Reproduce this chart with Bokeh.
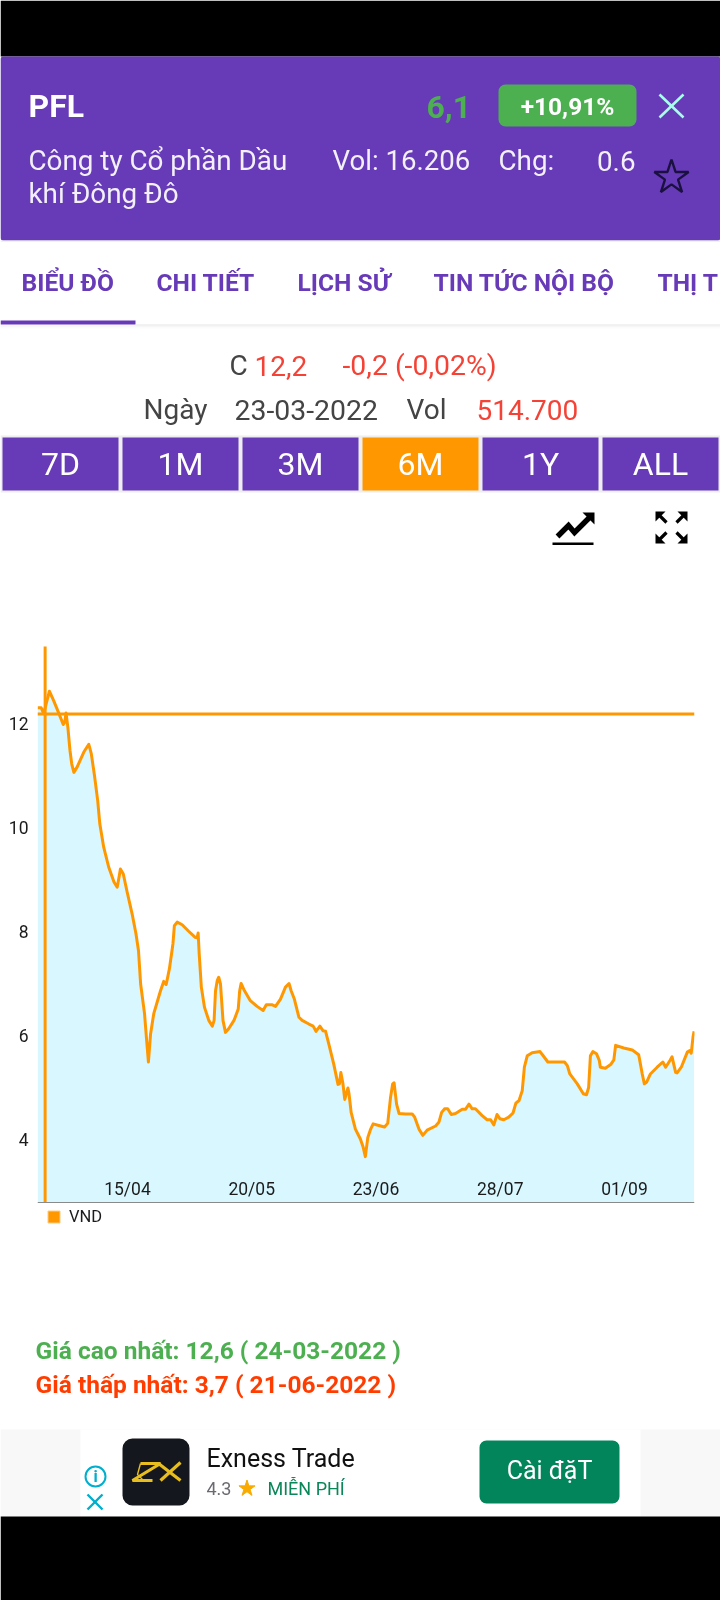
from bokeh.plotting import figure
from bokeh.layouts import column
from bokeh.models import Range1d, FixedTicker, Legend, LegendItem, Span
from bokeh.core.properties import value
from bokeh.embed import file_html
from bokeh.resources import INLINE

# ---- data ----
symbol = "PFL"
days = [-25.3,-24.3,-23.6,-22.0,-20.8,-19.3,-18.1,-17.7,-17.3,-16.8,-16.2,-15.7,-15.1,-14.2,-12.3,-10.9,-10.2,-9.3,-8.4,-7.8,-6.7,-5.3,-3.8,-2.9,-2.4,-2.0,-1.2,-0.1,1.3,
 2.4,3.1,3.7,4.8,5.4,5.9,6.5,7.4,9.3,10.2,10.9,11.8,12.8,13.2,14.0,15.4,17.3,19.0,19.6,19.9,20.2,20.8,21.7,22.9,23.9,24.4,24.8,25.3,25.7,26.2,26.9,27.6,28.5,30.0,31.2,31.6,32.0,32.8,34.6,36.5,38.2,39.1,40.8,41.7,43.1,44.5,45.5,46.1,47.0,48.3,49.2,51.1,52.3,53.1,54.2,55.1,55.8,56.7,58.1,59.3,59.7,60.1,60.7,61.2,62.1,62.4,63.0,64.2,
 65.6,66.4,67.0,67.7,68.5,69.2,70.8,72.4,73.3,74.1,74.7,75.1,75.8,76.5,78.3,80.2,80.9,82.1,83.2,84.4,86.8,87.7,88.5,89.3,90.2,91.2,92.4,94.3,95.2,96.2,97.1,98.0,99.9,101.3,102.3,103.2,104.1,104.9,106.0,107.4,108.6,109.4,110.3,111.2,111.8,112.6,114.0,116.2,117.1,118.4,120.6,123.1,123.9,124.6,126.7,128.4,129.3,129.9,130.4,131.1,132.1,132.9,133.2,134.6,136.1,137.0,137.5,139.8,142.2,144.0,145.0,145.6,146.2,147.3,149.2,150.8,151.6,152.8,153.4,154.4,154.8,156.0,157.7,158.4,158.8,159.3,159.6]
prices = [12.30,12.30,12.19,12.62,12.44,12.19,11.98,12.02,12.20,11.93,11.48,11.22,11.06,11.16,11.45,11.60,11.42,11.00,10.52,10.07,9.62,9.24,8.95,8.85,9.04,9.20,9.11,8.76,8.34,
 7.95,7.63,6.99,6.42,5.90,5.49,6.03,6.42,6.86,7.04,6.98,7.28,7.76,8.11,8.18,8.13,8.00,7.89,7.88,7.97,7.57,6.93,6.54,6.29,6.18,6.29,6.86,7.06,7.12,6.99,6.29,6.06,6.13,6.29,6.51,6.86,7.00,6.88,6.67,6.56,6.48,6.59,6.59,6.56,6.70,6.93,7.00,6.86,6.70,6.35,6.29,6.22,6.18,6.08,6.18,6.09,6.08,5.84,5.45,5.06,5.07,5.29,5.07,4.77,4.99,4.88,4.52,4.20,
 4.01,3.85,3.67,4.04,4.20,4.30,4.27,4.24,4.31,4.81,5.07,5.09,4.68,4.50,4.49,4.49,4.43,4.20,4.08,4.18,4.26,4.33,4.52,4.59,4.59,4.48,4.50,4.58,4.58,4.68,4.59,4.59,4.46,4.38,4.38,4.28,4.48,4.40,4.38,4.43,4.51,4.70,4.75,4.94,5.39,5.61,5.67,5.69,5.61,5.49,5.49,5.49,5.42,5.26,5.07,4.88,4.86,5.00,5.61,5.69,5.65,5.52,5.39,5.37,5.44,5.53,5.81,5.76,5.72,5.63,5.26,5.07,5.10,5.26,5.39,5.49,5.39,5.52,5.59,5.29,5.28,5.39,5.68,5.71,5.66,5.97,6.08]
x_ticks = [0, 35, 70, 105, 140]
x_tick_labels = ["15/04", "20/05", "23/06", "28/07", "01/09"]
y_ticks = [4, 6, 8, 10, 12]
cross_day = -23.2
cross_price = 12.18
axis_floor = 2.788
range_labels = ["7D", "1M", "3M", "6M", "1Y", "ALL"]
tabs = ["BIỂU ĐỒ", "CHI TIẾT", "LỊCH SỬ", "TIN TỨC NỘI BỘ", "THỊ T"]

PURPLE = "#673AB7"; ORANGE = "#FF9800"; GREEN = "#4CAF50"; RED = "#F44336"; DARK = "#444444"
W = 720

def panel(y0, y1):
    f = figure(width=W, height=y1 - y0, x_range=Range1d(0, W), y_range=Range1d(y1, y0),
               output_backend="svg", toolbar_location=None, min_border=0, frame_align=False,
               outline_line_color=None, border_fill_color="white", background_fill_color="white")
    f.axis.visible = False
    f.grid.visible = False
    return f

def txt(f, x, y, s, size, color, align="left", bold=False, font="Roboto"):
    f.text(x=[x], y=[y], text=[s], text_font=value(font), text_font_size=f"{size}px",
           text_color=color, text_align=align, text_baseline="middle",
           text_font_style="bold" if bold else "normal")

def box(f, x0, x1, y0, y1, color, radius=0):
    f.quad(left=[x0], right=[x1], top=[y0], bottom=[y1], fill_color=color, line_color=None,
           border_radius=radius)

# ---- header ----
h = panel(0, 600)
box(h, 0, W, 0, 56, "black")
box(h, 0, W, 56, 240, PURPLE, 3)
box(h, 0, W, 240, 241, "#E4E4E4")
txt(h, 28, 105, symbol, 32, "white", bold=True)
txt(h, 426, 106, "6,1", 32, GREEN, bold=True)
box(h, 498, 636, 84, 126, GREEN, 7)
txt(h, 567, 106, "+10,91%", 24.5, "white", "center", True)
h.segment(x0=[659, 659], y0=[94, 117], x1=[683, 683], y1=[117, 94], line_color="#A7FFEB", line_width=2.6)
txt(h, 28, 160, "Công ty Cổ phần Dầu", 27.8, "#F3F0FA")
txt(h, 28, 193, "khí Đông Đô", 27.8, "#F3F0FA")
txt(h, 332, 160, "Vol: 16.206", 27.6, "#F3F0FA")
txt(h, 498, 160, "Chg:", 27.8, "#F3F0FA")
txt(h, 635, 160, "0.6", 27.8, "#F3F0FA", "right")
h.scatter(x=[671], y=[177], marker="star", size=36, fill_color=None, line_color="#1B1140", line_width=2.4)

tab_x = [21, 156, 297, 433, 657]
for x, s in zip(tab_x, tabs):
    txt(h, x, 282, s, 24.6, PURPLE, bold=True)
box(h, 0, 135, 320, 324, PURPLE)
for i, c in enumerate(["#E6E6E6", "#EFEFEF", "#F6F6F6", "#FBFBFB"]):
    box(h, 0 if i else 135, W, 324 + i, 325 + i, c)

txt(h, 229, 365, "C", 28, DARK)
txt(h, 254, 365, "12,2", 28, RED)
txt(h, 342, 365, "-0,2 (-0,02%)", 28.4, RED)
txt(h, 143, 409, "Ngày", 28, DARK)
txt(h, 234, 409, "23-03-2022", 28.4, DARK)
txt(h, 406, 409, "Vol", 28, DARK)
txt(h, 476, 409, "514.700", 28, RED)

box(h, 0, W, 435, 492, "#EEEEEE")
btn_x = [(2, 118), (122, 238), (242, 358), (362, 478), (482, 598), (602, 718)]
for (a, b), s in zip(btn_x, range_labels):
    box(h, a, b, 437, 490, ORANGE if s == "6M" else PURPLE)
    txt(h, (a + b) / 2, 463, s, 32, "white", "center")

# trend icon
box(h, 552, 593, 542, 544.6, "black")
h.line(x=[557, 568, 574, 589], y=[536, 525, 532, 517], line_color="black", line_width=5.4, line_join="miter")
h.patch(x=[582, 594, 594], y=[512, 512, 524], fill_color="black", line_color=None)
# expand icon
for cx, cy, sx, sy in [(655, 511, 1, 1), (687, 511, -1, 1), (655, 543, 1, -1), (687, 543, -1, -1)]:
    h.patch(x=[cx, cx + sx * 10, cx], y=[cy, cy, cy + sy * 10], fill_color="black", line_color=None)
    h.line(x=[cx + sx * 4, cx + sx * 11], y=[cy + sy * 4, cy + sy * 11], line_color="black", line_width=3.2)

# ---- chart ----
p = figure(width=W, height=700, x_range=Range1d(-25.35, 159.72), y_range=Range1d(2.25, 13.98),
           output_backend="svg", toolbar_location=None, outline_line_color=None, frame_align=False,
           min_border_left=37, min_border_right=26, min_border_top=20, min_border_bottom=70,
           border_fill_color="white", background_fill_color="white")
p.grid.visible = False
base = [axis_floor] * len(days)
p.varea(x=days, y1=base, y2=prices, fill_color="#D8F7FF")
p.line(x=days, y=prices, line_color=ORANGE, line_width=3, line_join="round")
p.add_layout(Span(location=cross_price, dimension="width", line_color=ORANGE, line_width=3))
p.segment(x0=[cross_day], x1=[cross_day], y0=[axis_floor], y1=[13.48], line_color=ORANGE, line_width=3)

xa = p.xaxis[0]
xa.fixed_location = axis_floor
xa.ticker = FixedTicker(ticks=x_ticks)
xa.major_label_overrides = dict(zip(x_ticks, x_tick_labels))
xa.major_tick_line_color = None
xa.minor_tick_line_color = None
xa.axis_line_color = "#8A8A8A"
xa.axis_line_width = 1.2
xa.major_label_text_font = "Roboto"
xa.major_label_text_font_size = "17.5px"
xa.major_label_text_color = "#1C1C1C"
xa.major_label_standoff = -30

ya = p.yaxis[0]
ya.ticker = FixedTicker(ticks=y_ticks)
ya.axis_line_color = None
ya.major_tick_line_color = None
ya.minor_tick_line_color = None
ya.major_label_text_font = "Roboto"
ya.major_label_text_font_size = "17.5px"
ya.major_label_text_color = "#1C1C1C"
ya.major_label_standoff = 3

# the legend swatch needs one row of data: it lies below the visible range
swatch = p.quad(left=[0], right=[1], top=[-5], bottom=[-6], fill_color=ORANGE, line_color="#FFCC80")
legend = Legend(items=[LegendItem(label="VND", renderers=[swatch])], location=(9, 4),
                background_fill_alpha=0, border_line_color=None, padding=0, margin=0,
                glyph_width=15, glyph_height=15, label_text_font="Roboto", label_text_font_size="16.5px",
                label_text_color="#1C1C1C", label_standoff=8)
p.add_layout(legend, "center")

# ---- footer ----
g = panel(1300, 1600)
txt(g, 35, 1350, "Giá cao nhất: 12,6 ( 24-03-2022 )", 24.5, GREEN, bold=True)
txt(g, 35, 1384, "Giá thấp nhất: 3,7 ( 21-06-2022 )", 24.5, "#FF3D00", bold=True)
box(g, 0, W, 1429, 1516, "#F8F8F8")
box(g, 80, 640, 1429, 1516, "white")
box(g, 0, W, 1516, 1600, "black")
g.circle(x=[95], y=[1476], radius=10, fill_color=None, line_color="#00AECD", line_width=2)
txt(g, 95, 1476, "i", 16, "#00AECD", "center", True)
g.segment(x0=[87, 87], y0=[1494, 1509], x1=[102, 102], y1=[1509, 1494], line_color="#00AECD", line_width=2.4)
box(g, 122, 189, 1438, 1505, "#14171D", 10)
g.multi_line(xs=[[140, 160, 132, 152], [158, 180], [180, 160], [140, 137, 143]],
             ys=[[1463, 1463, 1480, 1480], [1463, 1480], [1462, 1480], [1463, 1474, 1480]],
             line_color="#E8BE1E", line_width=[3.2, 3.2, 3.2, 1.4])
txt(g, 206, 1458, "Exness Trade", 25, "#111111")
txt(g, 206, 1488, "4.3", 18, "#6A6A72")
g.scatter(x=[246.5], y=[1488], marker="star", size=17, fill_color="#F9AB00", line_color="#F9AB00")
txt(g, 267, 1488, "MIỄN PHÍ", 18, "#0B8659")
box(g, 479, 619, 1440, 1503, "#03855C", 7)
txt(g, 549, 1470, "Cài đặT", 25, "white", "center")

page = column(h, p, g, spacing=0, styles={"position": "fixed", "left": "0", "top": "0"})
open("out.html", "w").write(file_html(page, INLINE))
